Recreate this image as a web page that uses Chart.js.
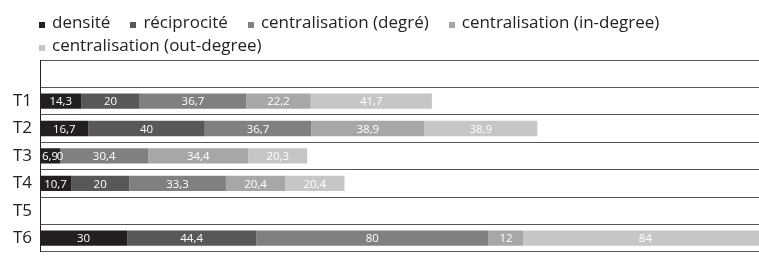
<!DOCTYPE html>
<html>
<head>
<meta charset="utf-8">
<script src="https://cdn.jsdelivr.net/npm/chart.js@4/dist/chart.umd.min.js"></script>
<style>
    html, body { margin: 0; padding: 0; overflow: hidden; background: #fff; }
    #wrap { position: relative; width: 759px; height: 270px; }
    #chart { position: absolute; left: 0; top: 0; }
    #legend {
        position: absolute; left: 39px; top: 11px; width: 715px;
        display: flex; flex-wrap: wrap; column-gap: 20px;
        font: 17px/22.5px "Open Sans", sans-serif; color: #222;
    }
    .item { white-space: nowrap; }
    .box { display: inline-block; width: 6px; height: 6px; margin-right: 7px; }
</style>
</head>
<body>
<div id="wrap">
    <canvas id="chart" width="759" height="270"></canvas>
    <div id="legend"></div>
</div>
<script>
// Categories, top to bottom.
var categories = ['T1', 'T2', 'T3', 'T4', 'T5', 'T6'];

// Series names, as shown in the legend.
var series_names = ['densité', 'réciprocité', 'centralisation (degré)',
    'centralisation (in-degree)', 'centralisation (out-degree)'];

// Values for each series (T5 has no data).
var densite = [14.3, 16.7, 6.9, 10.7, null, 30];
var reciprocite = [20, 40, 0, 20, null, 44.4];
var centr_degre = [36.7, 36.7, 30.4, 33.3, null, 80];
var centr_in = [22.2, 38.9, 34.4, 20.4, null, 12];
var centr_out = [41.7, 38.9, 20.3, 20.4, null, 84];

// Grey shades, darkest first.
var colors = ['#231f20', '#58585a', '#808082', '#a7a7a9', '#c6c6c8'];

/**
 * Writes a value with a decimal comma (14.3 -> "14,3").
 */
function format_value(v) {
    return String(v).replace('.', ',');
}

// Draws the value in the middle of each bar segment.
var value_labels = {
    id: 'value_labels',
    afterDatasetsDraw(chart) {
        var ctx = chart.ctx;
        ctx.save();
        ctx.font = '11.5px "Open Sans", sans-serif';
        ctx.fillStyle = '#fff';
        ctx.textAlign = 'center';
        ctx.textBaseline = 'middle';
        chart.data.datasets.forEach(function(ds, i) {
            chart.getDatasetMeta(i).data.forEach(function(bar, j) {
                var v = ds.data[j];
                if (v === null || v === undefined) {
                    return;
                }
                ctx.fillText(format_value(v), (bar.x + bar.base) / 2, bar.y + 1);
            });
        });
        ctx.restore();
    }
};

// The chart keeps an empty row above T1.
var all_series = [densite, reciprocite, centr_degre, centr_in, centr_out];
var datasets = all_series.map(function(values, i) {
    return {
        label: series_names[i],
        data: [null].concat(values),
        backgroundColor: colors[i],
        borderWidth: 0,
        barPercentage: 0.56,
        categoryPercentage: 1
    };
});

new Chart(document.getElementById('chart'), {
    type: 'bar',
    data: {
        labels: [''].concat(categories),
        datasets: datasets
    },
    options: {
        indexAxis: 'y',
        responsive: false,
        animation: false,
        layout: {
            padding: { top: 60, bottom: 9, left: 0, right: 0 }
        },
        scales: {
            x: {
                stacked: true,
                display: false,
                min: 0,
                max: 247.5
            },
            y: {
                stacked: true,
                grid: {
                    color: '#555',
                    lineWidth: 1,
                    drawTicks: false,
                    offset: true
                },
                border: {
                    color: '#222',
                    width: 1
                },
                ticks: {
                    color: '#222',
                    padding: 8,
                    font: { family: '"Open Sans", sans-serif', size: 17 }
                },
                // Fixed width so the plot starts at x = 40.
                afterFit: function(scale) {
                    scale.width = 40;
                }
            }
        },
        plugins: {
            legend: { display: false },
            tooltip: { enabled: false }
        }
    },
    plugins: [value_labels]
});

// Legend as html, built from the same names and colours.
var legend = document.getElementById('legend');
series_names.forEach(function(name, i) {
    var item = document.createElement('span');
    item.className = 'item';
    var box = document.createElement('span');
    box.className = 'box';
    box.style.background = colors[i];
    item.appendChild(box);
    item.appendChild(document.createTextNode(name));
    legend.appendChild(item);
});
</script>
</body>
</html>
